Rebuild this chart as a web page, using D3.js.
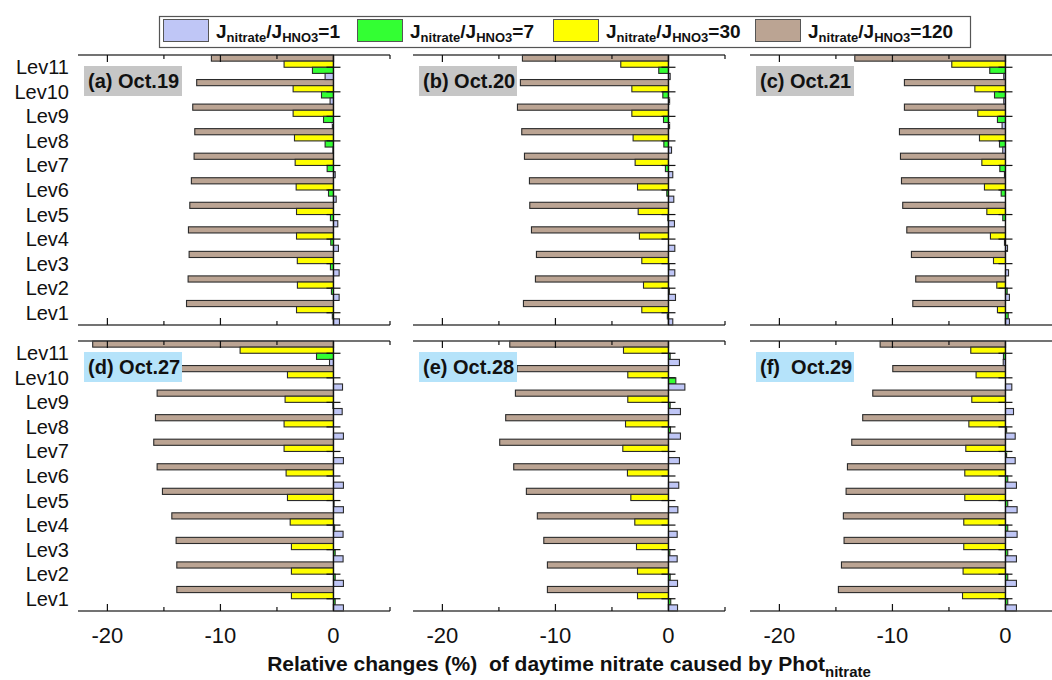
<!DOCTYPE html>
<html><head><meta charset="utf-8">
<script src="https://cdn.jsdelivr.net/npm/d3@7"></script>
<style>
html,body{margin:0;padding:0;background:#fff;overflow:hidden}
text{font-family:Arial,"Liberation Sans",sans-serif}
</style></head><body>
<svg id="chart" width="1052" height="680"></svg>
<script>
// ---------- data (Lev1 .. Lev11) ----------
const levels = ["Lev1","Lev2","Lev3","Lev4","Lev5","Lev6","Lev7","Lev8","Lev9","Lev10","Lev11"];
const seriesKeys = ["r120","r30","r7","r1"];            // top -> bottom inside each level
const seriesLabels = ["1","7","30","120"];
const seriesColors = {r1:"#bfc6f6", r7:"#33ff33", r30:"#ffff00", r120:"#bba493"};
const xTicksMajor = [-20,-10,0];
const xTicksMinor = [-15,-5,5];

const panelTitles = ["(a) Oct.19","(b) Oct.20","(c) Oct.21","(d) Oct.27","(e) Oct.28","(f)  Oct.29"];

const oct19_r120 = [-13.0,-12.86,-12.77,-12.83,-12.71,-12.57,-12.33,-12.27,-12.45,-12.1,-10.8];
const oct19_r30  = [-3.27,-3.19,-3.2,-3.27,-3.27,-3.3,-3.39,-3.45,-3.57,-3.57,-4.37];
const oct19_r7   = [-0.1,-0.18,-0.27,-0.24,-0.27,-0.44,-0.56,-0.74,-0.88,-1.06,-1.86];
const oct19_r1   = [0.53,0.5,0.5,0.44,0.38,0.24,0.15,-0.05,-0.1,-0.3,-0.74];

const oct20_r120 = [-12.83,-11.77,-11.68,-12.12,-12.27,-12.3,-12.74,-12.98,-13.36,-13.1,-12.92];
const oct20_r30  = [-2.36,-2.21,-2.36,-2.57,-2.68,-2.74,-2.95,-3.13,-3.24,-3.24,-4.22];
const oct20_r7   = [-0.1,0.08,0.05,0.0,-0.06,-0.15,-0.27,-0.41,-0.44,-0.5,-0.86];
const oct20_r1   = [0.38,0.62,0.56,0.56,0.53,0.47,0.38,0.27,0.1,0.1,0.15];

const oct21_r120 = [-8.2,-7.94,-8.32,-8.73,-9.09,-9.2,-9.29,-9.38,-8.94,-8.94,-13.33];
const oct21_r30  = [-0.71,-0.77,-1.06,-1.33,-1.65,-1.86,-2.09,-2.3,-2.45,-2.71,-4.75];
const oct21_r7   = [0.24,0.15,0.0,-0.09,-0.24,-0.38,-0.5,-0.53,-0.71,-0.97,-1.39];
const oct21_r1   = [0.35,0.35,0.27,0.18,0.0,0.0,-0.09,-0.24,-0.3,-0.15,-0.15];

const oct27_r120 = [-13.86,-13.86,-13.92,-14.3,-15.13,-15.6,-15.9,-15.75,-15.6,-15.0,-21.3];
const oct27_r30  = [-3.72,-3.72,-3.72,-3.83,-4.07,-4.19,-4.37,-4.37,-4.28,-4.07,-8.26];
const oct27_r7   = [0.15,0.15,0.15,0.1,0.05,0.0,0.0,0.0,-0.05,0.0,-1.5];
const oct27_r1   = [0.88,0.88,0.85,0.85,0.88,0.88,0.88,0.88,0.77,0.8,-0.35];

const oct28_r120 = [-10.71,-10.71,-11.03,-11.6,-12.57,-13.69,-14.93,-14.4,-13.54,-13.39,-14.04];
const oct28_r30  = [-2.74,-2.74,-2.83,-2.98,-3.33,-3.63,-4.04,-3.8,-3.6,-3.6,-3.98];
const oct28_r7   = [0.2,0.15,0.12,0.0,0.0,0.0,0.0,0.18,0.15,0.65,0.15];
const oct28_r1   = [0.8,0.8,0.77,0.77,0.83,0.91,0.97,1.06,1.06,1.45,0.97];

const oct29_r120 = [-14.78,-14.51,-14.28,-14.34,-14.1,-13.98,-13.6,-12.63,-11.74,-9.97,-11.09];
const oct29_r30  = [-3.8,-3.75,-3.69,-3.69,-3.6,-3.6,-3.51,-3.24,-2.98,-2.6,-3.07];
const oct29_r7   = [0.2,0.2,0.2,0.2,0.2,0.2,0.1,0.1,0.0,0.0,-0.18];
const oct29_r1   = [0.97,0.97,0.97,1.03,1.03,0.97,0.86,0.86,0.71,0.56,-0.2];

const panelData = [
  {r120:oct19_r120, r30:oct19_r30, r7:oct19_r7, r1:oct19_r1},
  {r120:oct20_r120, r30:oct20_r30, r7:oct20_r7, r1:oct20_r1},
  {r120:oct21_r120, r30:oct21_r30, r7:oct21_r7, r1:oct21_r1},
  {r120:oct27_r120, r30:oct27_r30, r7:oct27_r7, r1:oct27_r1},
  {r120:oct28_r120, r30:oct28_r30, r7:oct28_r7, r1:oct28_r1},
  {r120:oct29_r120, r30:oct29_r30, r7:oct29_r7, r1:oct29_r1}
];

// ---------- layout ----------
const svg = d3.select("#chart");
const colLeft = [78, 413, 750];
const panelW = 312;
const rowTop = [55, 341];
const panelH = 270;
const xDomain = [-22.6, 5];
const boxFill = ["#c6c6c6","#c6c6c6","#c6c6c6","#b5e3fa","#b5e3fa","#b5e3fa"];

panelData.forEach((pd, i) => {
  const col = i % 3, row = Math.floor(i / 3);
  const x0 = colLeft[col], y0 = rowTop[row];
  const g = svg.append("g").attr("transform", `translate(${x0},${y0})`);
  const x = d3.scaleLinear().domain(xDomain).range([0, panelW]);
  const y = d3.scaleBand().domain(levels.slice().reverse()).range([0, panelH]).padding(0);
  const ys = d3.scaleBand().domain(seriesKeys).range([0, y.bandwidth()]).padding(0);

  // bars
  levels.forEach((lev, li) => {
    seriesKeys.forEach(k => {
      const v = pd[k][li];
      g.append("rect")
        .attr("x", x(Math.min(0, v)))
        .attr("y", y(lev) + ys(k))
        .attr("width", Math.abs(x(v) - x(0)))
        .attr("height", ys.bandwidth())
        .attr("fill", seriesColors[k])
        .attr("stroke", "#2b2b2b")
        .attr("stroke-width", 1.1);
    });
  });

  // zero line (y axis) with ticks on both sides
  g.append("line").attr("x1", x(0)).attr("x2", x(0)).attr("y1", 0).attr("y2", panelH)
    .attr("stroke", "#111").attr("stroke-width", 1.4);
  levels.forEach(lev => {
    const cy = y(lev) + y.bandwidth() / 2;
    g.append("line").attr("x1", x(0) - 7).attr("x2", x(0) + 7).attr("y1", cy).attr("y2", cy)
      .attr("stroke", "#111").attr("stroke-width", 1.2);
  });

  // top and bottom axis lines
  [0, panelH].forEach((yy, j) => {
    g.append("line").attr("x1", 0).attr("x2", panelW).attr("y1", yy).attr("y2", yy)
      .attr("stroke", "#444").attr("stroke-width", 1.5);
    const dir = j === 0 ? 1 : -1;
    xTicksMajor.forEach(t => {
      g.append("line").attr("x1", x(t)).attr("x2", x(t)).attr("y1", yy).attr("y2", yy + dir * 7)
        .attr("stroke", "#111").attr("stroke-width", 1.2);
    });
    xTicksMinor.forEach(t => {
      g.append("line").attr("x1", x(t)).attr("x2", x(t)).attr("y1", yy).attr("y2", yy + dir * 4)
        .attr("stroke", "#111").attr("stroke-width", 1.2);
    });
  });

  // tick labels on bottom row
  if (row === 1) {
    xTicksMajor.forEach(t => {
      g.append("text").attr("x", x(t)).attr("y", panelH + 32)
        .attr("text-anchor", "middle").attr("font-size", 22).attr("fill", "#111")
        .text(t === 0 ? "0" : String(t));
    });
  }

  // level labels on first column
  if (col === 0) {
    levels.forEach(lev => {
      g.append("text").attr("x", -9).attr("y", y(lev) + y.bandwidth() / 2 + 7)
        .attr("text-anchor", "end").attr("font-size", 20).attr("fill", "#111").text(lev);
    });
  }

  // panel label box
  const lb = g.append("g").attr("transform", "translate(6,11)");
  lb.append("rect").attr("width", 98).attr("height", 30).attr("fill", boxFill[i]);
  lb.append("text").attr("x", 4).attr("y", 22).attr("font-size", 20).attr("font-weight", "bold")
    .attr("fill", "#111").attr("xml:space", "preserve").style("white-space", "pre").text(panelTitles[i]);
});

// ---------- legend ----------
const leg = svg.append("g");
leg.append("rect").attr("x", 159.5).attr("y", 16.5).attr("width", 811).attr("height", 31)
  .attr("fill", "#fff").attr("stroke", "#555").attr("stroke-width", 1.2);
const legX = [163, 357, 553, 755];
const legKeys = ["r1","r7","r30","r120"];
legKeys.forEach((k, i) => {
  leg.append("rect").attr("x", legX[i] + 0.5).attr("y", 19.5).attr("width", 45).attr("height", 22)
    .attr("fill", seriesColors[k]).attr("stroke", "#555").attr("stroke-width", 1);
  const t = leg.append("text").attr("x", legX[i] + 53).attr("y", 38)
    .attr("font-size", 19).attr("font-weight", "bold").attr("fill", "#111");
  t.append("tspan").text("J");
  t.append("tspan").attr("font-size", 13).attr("dy", 4).text("nitrate");
  t.append("tspan").attr("dy", -4).text("/J");
  t.append("tspan").attr("font-size", 13).attr("dy", 4).text("HNO3");
  t.append("tspan").attr("dy", -4).text("=" + seriesLabels[i]);
});

// ---------- x title ----------
const xt = svg.append("text").attr("x", 569).attr("y", 671).attr("text-anchor", "middle")
  .attr("font-size", 21).attr("font-weight", "bold").attr("fill", "#111")
  .attr("xml:space", "preserve").style("white-space", "pre");
xt.append("tspan").text("Relative changes (%)  of daytime nitrate caused by Phot");
xt.append("tspan").attr("font-size", 15).attr("dy", 6).text("nitrate");
</script>
</body></html>
